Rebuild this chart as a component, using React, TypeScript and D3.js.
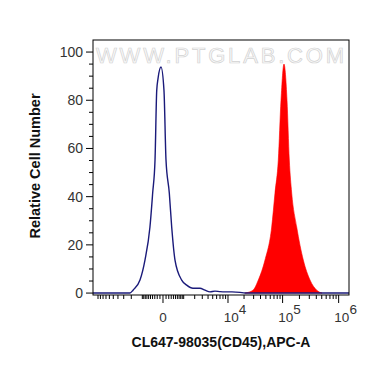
import React from 'react';
import * as d3 from 'd3';

// fluorescence (APC-A) vs relative cell number (% of max)
const controlX = [-12450, -2150, -1810, -1175, -820, -530, -395, -290, -220, -170, -64, 31, 98, 221, 321, 476, 863, 1230, 1810, 2660, 3440, 4400, 5560, 7000, 8760, 11900, 16800, 20800, 1529000];
const controlY = [0, 0, 1.2, 5.4, 13.7, 27.4, 41.5, 55.2, 84, 89, 93.8, 84, 55.2, 41.5, 27.4, 13.7, 5.4, 3.3, 2, 2, 1.2, 0.5, 0.8, 0.6, 0.5, 0.5, 0.3, 0, 0];

const stainedX = [20800, 29200, 36500, 48200, 63700, 73000, 83700, 93600, 105900, 119900, 131800, 145500, 178700, 234500, 308900, 406500, 505100];
const stainedY = [0, 1.2, 5.4, 13.7, 27.4, 41.5, 55.2, 80, 95, 80, 55.2, 41.5, 27.4, 13.7, 5.4, 1.2, 0];

const xTickValues = [0, 1e4, 1e5, 1e6];
const xTickBase = ['0', '10', '10', '10'];
const xTickExp = ['', '4', '5', '6'];
const xMinorTicks = [
  ...d3.range(-10000, -999, 1000),
  ...d3.range(-900, 901, 100).filter(v => v !== 0),
  ...d3.range(1000, 9001, 1000),
  ...d3.range(20000, 90001, 10000),
  ...d3.range(200000, 900001, 100000),
];
const yTickValues = [0, 20, 40, 60, 80, 100];
const yMinorTicks = d3.range(5, 105, 5).filter(v => v % 20 !== 0);

const left = 93, right = 349, top = 40, bottom = 295;

const App = () => {
  const x = d3.scaleSymlog().constant(750).domain([-12450, 1529000]).range([left, right]);
  const y = d3.scaleLinear().domain([-0.8, 105]).range([bottom, top]);

  const line = d3.line<number>()
    .x((d, i) => x(controlX[i]))
    .y(d => y(d))
    .curve(d3.curveMonotoneX);

  const area = d3.area<number>()
    .x((d, i) => x(stainedX[i]))
    .y0(y(0))
    .y1(d => y(d))
    .curve(d3.curveMonotoneX);

  const font = '"Liberation Sans", Arial, sans-serif';

  return (
    <svg width={370} height={367} style={{ position: 'absolute', left: 0, top: 0, background: '#fff' }} fontFamily={font}>
      <rect x={0} y={0} width={370} height={367} fill="#fff" />
      <text x={220} y={63} textAnchor="middle" fontSize={22} fill="#fafafa" stroke="#d2d2d2" strokeWidth={0.7} textLength={248}>
        WWW.PTGLAB.COM
      </text>

      <path d={area(stainedY) || ''} fill="#ff0000" stroke="#ff0000" strokeWidth={0.6} />
      <path d={line(controlY) || ''} fill="none" stroke="#1a1a7a" strokeWidth={1.4} />

      <rect x={left} y={top} width={right - left} height={bottom - top} fill="none" stroke="#000" strokeWidth={1} />

      {yTickValues.map(v => (
        <g key={'y' + v}>
          <line x1={left - 7} x2={left} y1={y(v)} y2={y(v)} stroke="#000" />
          <text x={left - 10} y={y(v) + 5} textAnchor="end" fontSize={14} fill="#333">{v}</text>
        </g>
      ))}
      {yMinorTicks.map(v => (
        <line key={'ym' + v} x1={left - 4} x2={left} y1={y(v)} y2={y(v)} stroke="#000" />
      ))}

      {xMinorTicks.map(v => (
        <line key={'xm' + v} x1={x(v)} x2={x(v)} y1={bottom} y2={bottom + 4} stroke="#000" />
      ))}
      {xTickValues.map((v, i) => (
        <g key={'x' + v}>
          <line x1={x(v)} x2={x(v)} y1={bottom} y2={bottom + 8} stroke="#000" />
          <text x={x(v) + (i === 0 ? 0 : 7)} y={322} textAnchor="middle" fontSize={13.5} fill="#333">
            {xTickBase[i]}
            {xTickExp[i] && <tspan dy={-8}>{xTickExp[i]}</tspan>}
          </text>
        </g>
      ))}

      <text x={221} y={347} textAnchor="middle" fontSize={14} fontWeight="bold" fill="#111">
        CL647-98035(CD45),APC-A
      </text>
      <text transform="translate(40,166) rotate(-90)" textAnchor="middle" fontSize={14.5} fontWeight="bold" fill="#111">
        Relative Cell Number
      </text>
    </svg>
  );
};

export default App;
